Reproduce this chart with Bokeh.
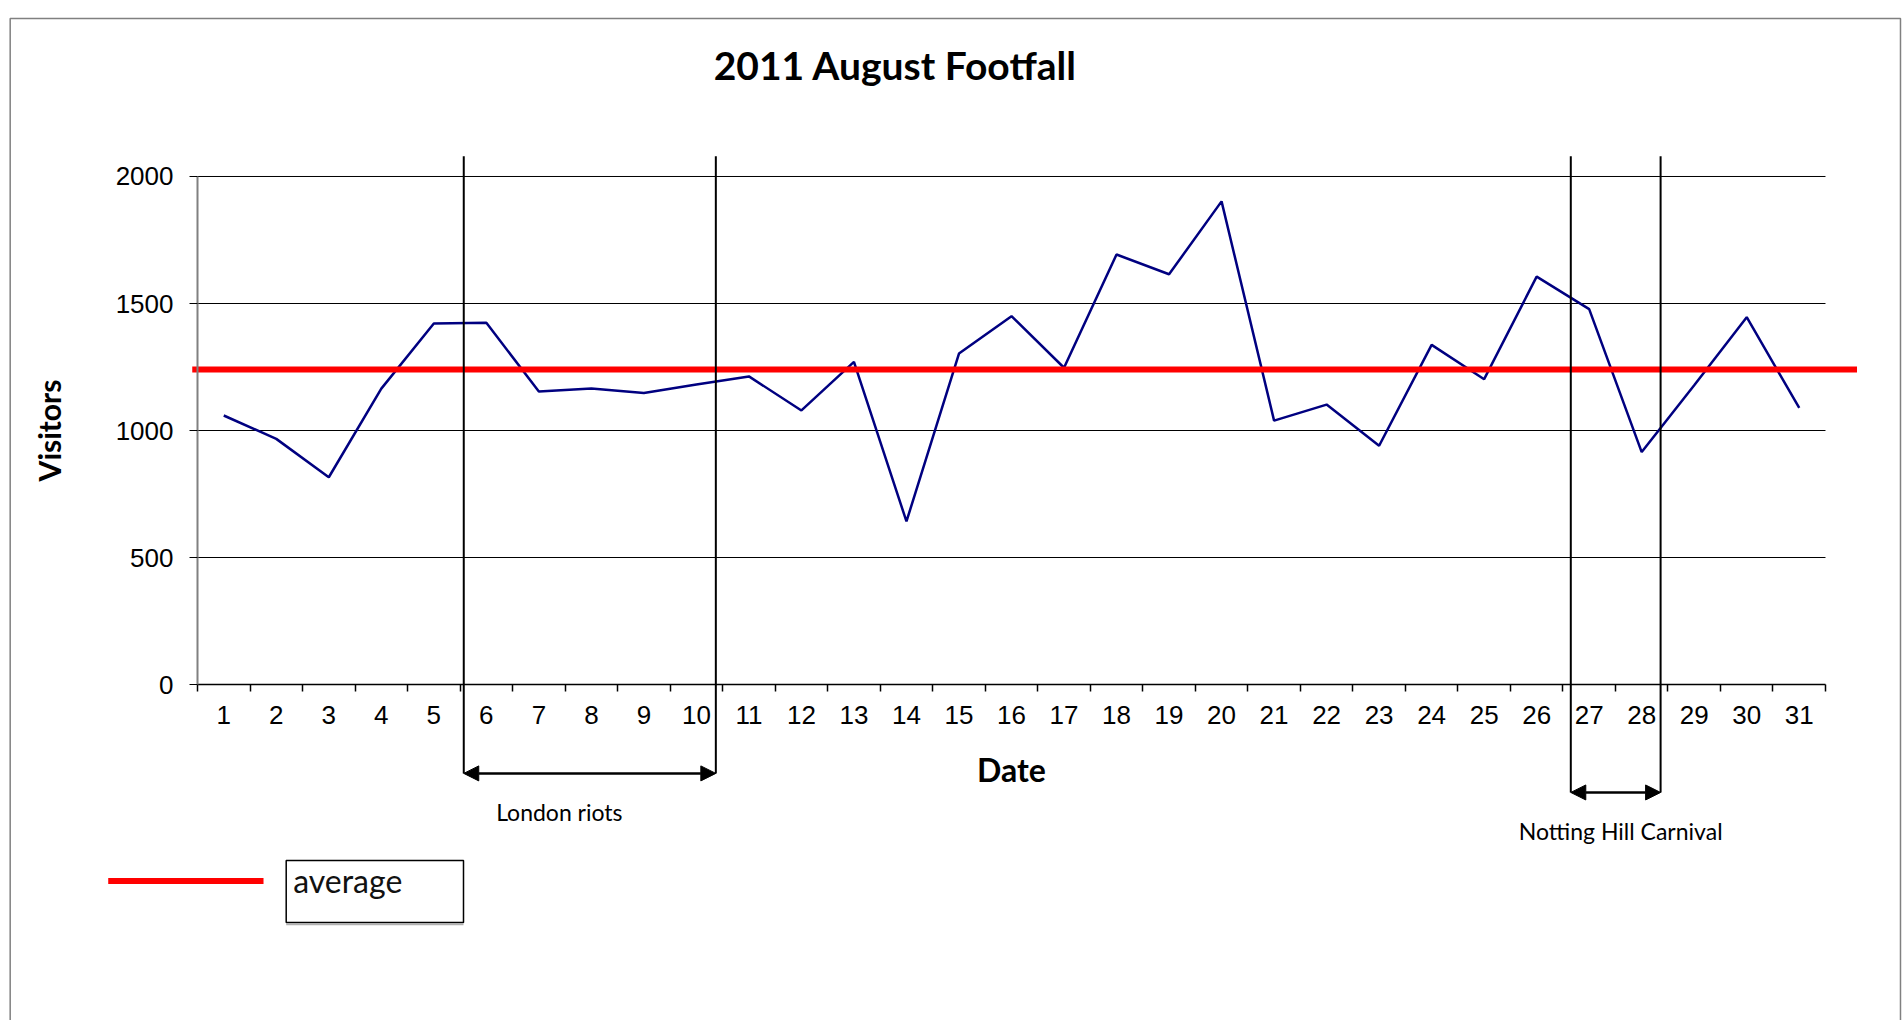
from bokeh.plotting import figure
from bokeh.models import Range1d, FixedTicker, Arrow, NormalHead, Label, BoxAnnotation
from bokeh.embed import file_html
from bokeh.resources import INLINE

# ---- data ----
days = list(range(1, 32))
visitors = [1059, 967, 816, 1165, 1421, 1424, 1154, 1165, 1148, 1181,
            1213, 1079, 1270, 642, 1303, 1450, 1247, 1693, 1615, 1902,
            1039, 1102, 940, 1337, 1202, 1606, 1478, 915, 1178, 1446, 1089]
average_visitors = 1240
y_ticks = [0, 500, 1000, 1500, 2000]
title_text = "2011 August Footfall"
x_title = "Date"
y_title = "Visitors"
event_names = ["London riots", "Notting Hill Carnival"]
legend_text = "average"

W, H = 1903, 1020
# the frame covers the whole canvas so that the hand-drawn annotations
# around the chart (as in the original) are not clipped; the plot area
# itself spans days 0.5..31.5 and 0..2000 visitors.
p = figure(width=W, height=H, output_backend="svg", toolbar_location=None,
           x_range=Range1d(-3.2513, 32.9853), y_range=Range1d(-1322.8, 2692.9),
           min_border=0, min_border_left=0, min_border_right=0,
           min_border_top=0, min_border_bottom=0)
p.title.visible = False
p.outline_line_color = None
p.background_fill_color = "white"
p.border_fill_color = "white"
p.xgrid.visible = False
p.ygrid.visible = False

# x axis: labels at day centres, tick marks between days
p.xaxis.fixed_location = 0
p.xaxis.bounds = (0.5, 31.5)
p.xaxis.ticker = FixedTicker(ticks=days, minor_ticks=[d - 0.5 for d in days] + [days[-1] + 0.5])
p.xaxis.major_tick_line_color = None
p.xaxis.major_tick_in = 0
p.xaxis.major_tick_out = 0
p.xaxis.minor_tick_in = 0
p.xaxis.minor_tick_out = 7
p.xaxis.minor_tick_line_color = "black"
p.xaxis.minor_tick_line_width = 1.5
p.xaxis.axis_line_color = "black"
p.xaxis.axis_line_width = 1.5
p.xaxis.major_label_standoff = 14
p.xaxis.major_label_text_font = "Liberation Sans"
p.xaxis.major_label_text_font_size = "26px"
p.xaxis.major_label_text_color = "black"
p.xaxis.axis_label = x_title
p.xaxis.axis_label_text_font = "Lato"
p.xaxis.axis_label_text_font_style = "bold"
p.xaxis.axis_label_text_font_size = "32px"
p.xaxis.axis_label_text_color = "black"
p.xaxis.axis_label_standoff = 23

p.yaxis.fixed_location = 0.5
p.yaxis.bounds = (0, 2000)
p.yaxis.ticker = FixedTicker(ticks=y_ticks)
p.yaxis.major_tick_in = 0
p.yaxis.major_tick_out = 8
p.yaxis.major_tick_line_color = "black"
p.yaxis.minor_tick_line_color = None
p.yaxis.axis_line_color = "#808080"
p.yaxis.axis_line_width = 2
p.yaxis.major_label_standoff = 16
p.yaxis.major_label_text_font = "Liberation Sans"
p.yaxis.major_label_text_font_size = "26px"
p.yaxis.major_label_text_color = "black"
p.yaxis.axis_label = y_title
p.yaxis.axis_label_text_font = "Lato"
p.yaxis.axis_label_text_font_style = "bold"
p.yaxis.axis_label_text_font_size = "30px"
p.yaxis.axis_label_text_color = "black"
p.yaxis.axis_label_standoff = 46

# horizontal gridlines across the plot area only
grid_y = y_ticks[1:]
p.segment(x0=[0.5] * len(grid_y), x1=[31.5] * len(grid_y), y0=grid_y, y1=grid_y,
          line_color="black", line_width=1)

# series
p.line(days, visitors, line_color="#000080", line_width=2.5)

# average line (extends slightly beyond the plot area)
p.segment(x0=[0.4], x1=[32.1], y0=[average_visitors], y1=[average_visitors],
          line_color="#ff0000", line_width=6)

# event markers
events = [(5.57, 10.37, -350, 7.39, -504), (26.65, 28.36, -425, 27.6, -578)]
for name, (x0, x1, ybot, lx, ly) in zip(event_names, events):
    p.segment(x0=[x0, x1], x1=[x0, x1], y0=[2080, 2080], y1=[ybot, ybot],
              line_color="black", line_width=2)
    p.add_layout(Arrow(start=NormalHead(size=15, fill_color="black", line_color="black"),
                       end=NormalHead(size=15, fill_color="black", line_color="black"),
                       x_start=x0, y_start=ybot, x_end=x1, y_end=ybot,
                       line_color="black", line_width=2.5))
    p.add_layout(Label(x=lx, y=ly + 3, text=name, text_align="center", text_baseline="middle",
                       text_font="Lato", text_font_size="23px", text_color="black"))

# title
p.add_layout(Label(x=13.79, y=2437, text=title_text, text_align="center", text_baseline="middle",
                   text_font="Lato", text_font_style="bold", text_font_size="39px",
                   text_color="black"))

# hand-drawn legend
p.segment(x0=[-1.2], x1=[1.757], y0=[-774], y1=[-774], line_color="#ff0000", line_width=6)
p.segment(x0=[2.189], x1=[5.565], y0=[-945], y1=[-945], line_color="#b0b0b0", line_width=1.5)
p.add_layout(BoxAnnotation(left=2.189, right=5.565, top=-693, bottom=-937,
                           fill_alpha=0, line_color="black", line_width=1.5, line_alpha=1))
p.add_layout(Label(x=2.322, y=-773, text=legend_text, text_align="left", text_baseline="middle",
                   text_font="Lato", text_font_size="32px", text_color="#111111"))

# outer chart border
p.add_layout(BoxAnnotation(left=-3.067, right=32.928, top=2622, bottom=-1400,
                           fill_alpha=0, line_color="#808080", line_width=1.5, line_alpha=1))

open("out.html", "w").write(file_html(p, INLINE))
